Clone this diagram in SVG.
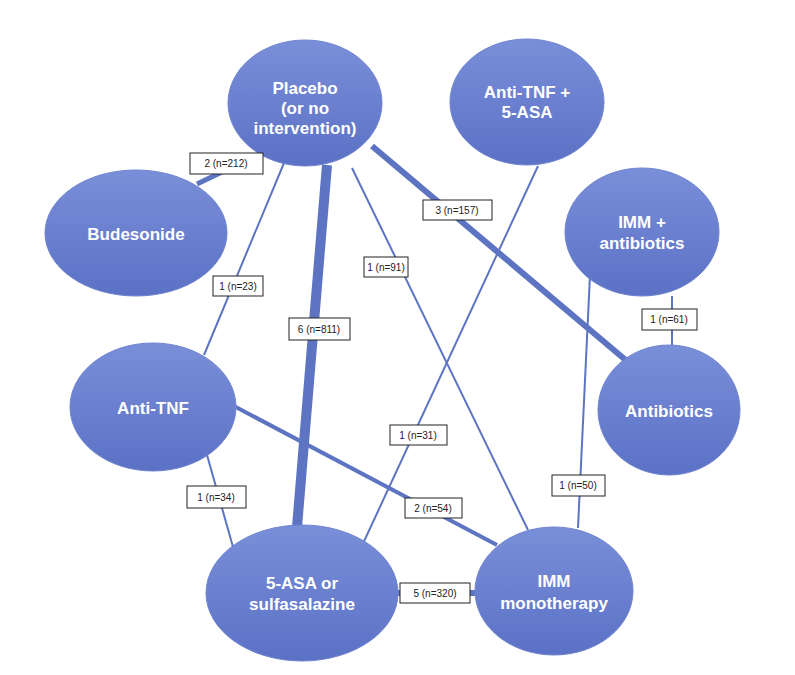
<svg xmlns="http://www.w3.org/2000/svg" width="795" height="675" viewBox="0 0 795 675">
<defs>
<linearGradient id="g" x1="0" y1="0" x2="0" y2="1">
<stop offset="0" stop-color="#7a8fd9"/>
<stop offset="1" stop-color="#5b71c5"/>
</linearGradient>
<style>
.n{fill:url(#g);stroke:#6f84cf;stroke-width:1}
.t{font-family:"Liberation Sans",Arial,sans-serif;font-weight:bold;font-size:17px;fill:#fff;text-anchor:middle}
.e{stroke:#5d74c3;fill:none}
.lb{fill:#fff;stroke:#222;stroke-width:1}
.lt{font-family:"Liberation Sans",Arial,sans-serif;font-size:10px;fill:#222;text-anchor:middle}
</style>
</defs>
<rect width="795" height="675" fill="#fff"/>
<g id="connectors">
<line class="e" x1="197" y1="184" x2="247" y2="160" stroke-width="5"/>
<line class="e" x1="284" y1="163" x2="204" y2="355" stroke-width="2"/>
<line class="e" x1="327" y1="165" x2="297" y2="527" stroke-width="10"/>
<line class="e" x1="352" y1="168" x2="528" y2="530" stroke-width="2"/>
<line class="e" x1="372" y1="146" x2="628" y2="362" stroke-width="6"/>
<line class="e" x1="538" y1="166" x2="360" y2="550" stroke-width="2"/>
<line class="e" x1="672" y1="296" x2="672" y2="346" stroke-width="2"/>
<line class="e" x1="590" y1="275" x2="578" y2="528" stroke-width="2"/>
<line class="e" x1="232" y1="405" x2="497" y2="545" stroke-width="4"/>
<line class="e" x1="207" y1="455" x2="233" y2="547" stroke-width="2"/>
<line class="e" x1="395" y1="593" x2="478" y2="593" stroke-width="6"/>
</g>
<g id="placebo"><ellipse class="n" cx="305" cy="103" rx="77" ry="63"/><text class="t"><tspan x="305" y="94">Placebo</tspan><tspan x="305" y="114">(or no</tspan><tspan x="305" y="134">intervention)</tspan></text></g>
<g id="antitnf5asa"><ellipse class="n" cx="527" cy="102" rx="77" ry="63"/><text class="t"><tspan x="527" y="98">Anti-TNF +</tspan><tspan x="527" y="118">5-ASA</tspan></text></g>
<g id="budesonide"><ellipse class="n" cx="136" cy="233" rx="91" ry="63"/><text class="t" x="136" y="240">Budesonide</text></g>
<g id="immantibiotics"><ellipse class="n" cx="642" cy="232" rx="77" ry="64"/><text class="t"><tspan x="642" y="228">IMM +</tspan><tspan x="642" y="249">antibiotics</tspan></text></g>
<g id="antitnf"><ellipse class="n" cx="153" cy="407" rx="83" ry="64"/><text class="t" x="153" y="414">Anti-TNF</text></g>
<g id="antibiotics"><ellipse class="n" cx="669" cy="410" rx="71" ry="65"/><text class="t" x="669" y="417">Antibiotics</text></g>
<g id="asa"><ellipse class="n" cx="302" cy="593" rx="96" ry="68"/><text class="t"><tspan x="302" y="589">5-ASA or</tspan><tspan x="302" y="610">sulfasalazine</tspan></text></g>
<g id="immmono"><ellipse class="n" cx="554" cy="591" rx="79" ry="64"/><text class="t"><tspan x="554" y="587">IMM</tspan><tspan x="554" y="609">monotherapy</tspan></text></g>
<g id="labels">
<rect class="lb" x="190" y="153" width="73" height="21"/><text class="lt" x="226" y="167">2 (n=212)</text>
<rect class="lb" x="423" y="200" width="69" height="20"/><text class="lt" x="457" y="214">3 (n=157)</text>
<rect class="lb" x="364" y="257" width="44" height="20" stroke-width="1.5"/><text class="lt" x="386" y="271">1 (n=91)</text>
<rect class="lb" x="213" y="276" width="50" height="20"/><text class="lt" x="238" y="290">1 (n=23)</text>
<rect class="lb" x="289" y="318" width="61" height="22"/><text class="lt" x="319" y="333">6 (n=811)</text>
<rect class="lb" x="642" y="309" width="55" height="21"/><text class="lt" x="669" y="323">1 (n=61)</text>
<rect class="lb" x="390" y="425" width="57" height="20"/><text class="lt" x="418" y="439">1 (n=31)</text>
<rect class="lb" x="187" y="486" width="59" height="22"/><text class="lt" x="216" y="501">1 (n=34)</text>
<rect class="lb" x="405" y="498" width="57" height="20"/><text class="lt" x="433" y="512">2 (n=54)</text>
<rect class="lb" x="552" y="475" width="53" height="21"/><text class="lt" x="578" y="489">1 (n=50)</text>
<rect class="lb" x="400" y="583" width="70" height="20"/><text class="lt" x="435" y="597">5 (n=320)</text>
</g>
</svg>
